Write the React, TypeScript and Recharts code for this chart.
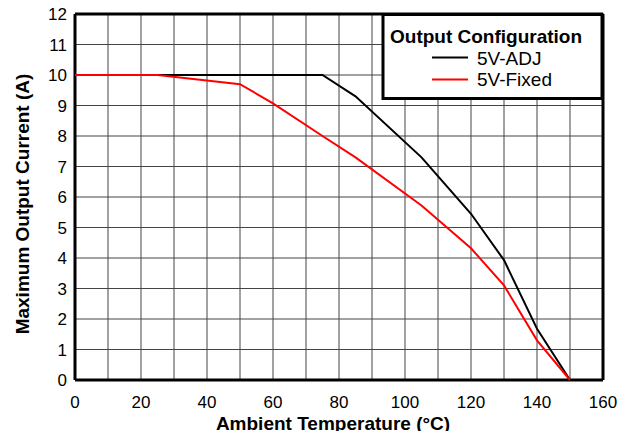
import { LineChart, Line, XAxis, YAxis, CartesianGrid, ReferenceLine, Label } from 'recharts';

const adjTemp = [0, 75, 85, 105, 120, 130, 140, 150]
const adjCurrent = [10, 10, 9.3, 7.3, 5.45, 3.93, 1.68, 0]
const fixedTemp = [0, 25, 50, 60, 75, 85, 105, 120, 130, 140, 150]
const fixedCurrent = [10, 10, 9.7, 9.07, 8.0, 7.3, 5.72, 4.32, 3.1, 1.3, 0]
const xTicks = [0, 10, 20, 30, 40, 50, 60, 70, 80, 90, 100, 110, 120, 130, 140, 150, 160]
const yTicks = [0, 1, 2, 3, 4, 5, 6, 7, 8, 9, 10, 11, 12]
const legendTitle = 'Output Configuration'
const seriesNames = ['5V-ADJ', '5V-Fixed']
const seriesColors = ['#000000', '#ff0000']

const font = '"Liberation Sans", Arial, sans-serif'

const adjData = adjTemp.map((t, i) => ({ temp: t, value: adjCurrent[i] }))
const fixedData = fixedTemp.map((t, i) => ({ temp: t, value: fixedCurrent[i] }))

// legend box drawn over the top right corner of the plot
const LegendBox = () => (
  <svg width={632} height={439} style={{ position: 'absolute', left: 0, top: 0, pointerEvents: 'none' }}>
    <rect x={383} y={14.5} width={219} height={84} fill="#fff" stroke="#000" strokeWidth={3} />
    <text x={390} y={43} fontSize={19} fontWeight="bold" fontFamily={font} fill="#000">{legendTitle}</text>
    {seriesNames.map((name, i) => (
      <g key={name}>
        <line x1={432} x2={468} y1={57.5 + i * 22} y2={57.5 + i * 22} stroke={seriesColors[i]} strokeWidth={2} />
        <text x={477} y={65 + i * 21} fontSize={19} fontFamily={font} fill="#000">{name}</text>
      </g>
    ))}
  </svg>
)

const App = () => {
  return (
    <div style={{ position: 'relative', width: 632, height: 439, margin: -8, background: '#fff', fontFamily: font }}>
      <LineChart width={632} height={439} margin={{ top: 14, right: 29, left: 0, bottom: 0 }}>
        <CartesianGrid stroke="#444" strokeWidth={1} />
        <XAxis
          type="number"
          dataKey="temp"
          domain={[0, 160]}
          ticks={xTicks}
          interval={0}
          tickFormatter={(v) => (v % 20 === 0 ? String(v) : '')}
          axisLine={false}
          tickLine={false}
          tickMargin={10}
          height={59}
          tick={{ fill: '#000', fontSize: 17, fontFamily: font }}
        >
          <Label
            content={() => (
              <text x={333} y={430} textAnchor="middle" fontSize={19} fontWeight="bold" fontFamily={font} fill="#000">
                Ambient Temperature (°C)
              </text>
            )}
          />
        </XAxis>
        <YAxis
          type="number"
          domain={[0, 12]}
          ticks={yTicks}
          interval={0}
          axisLine={false}
          tickLine={false}
          width={75}
          tick={{ fill: '#000', fontSize: 17, fontFamily: font }}
        >
          <Label
            content={() => (
              <text x={29} y={204} transform="rotate(-90 29 204)" textAnchor="middle" fontSize={19} fontWeight="bold" fontFamily={font} fill="#000">
                Maximum Output Current (A)
              </text>
            )}
          />
        </YAxis>
        <ReferenceLine x={0} stroke="#000" strokeWidth={3} />
        <ReferenceLine x={160} stroke="#000" strokeWidth={3} />
        <ReferenceLine y={0} stroke="#000" strokeWidth={3} />
        <ReferenceLine y={12} stroke="#000" strokeWidth={3} />
        <Line data={adjData} dataKey="value" name={seriesNames[0]} stroke={seriesColors[0]} strokeWidth={2} dot={false} isAnimationActive={false} />
        <Line data={fixedData} dataKey="value" name={seriesNames[1]} stroke={seriesColors[1]} strokeWidth={2} dot={false} isAnimationActive={false} />
      </LineChart>
      <LegendBox />
    </div>
  )
}

export default App
